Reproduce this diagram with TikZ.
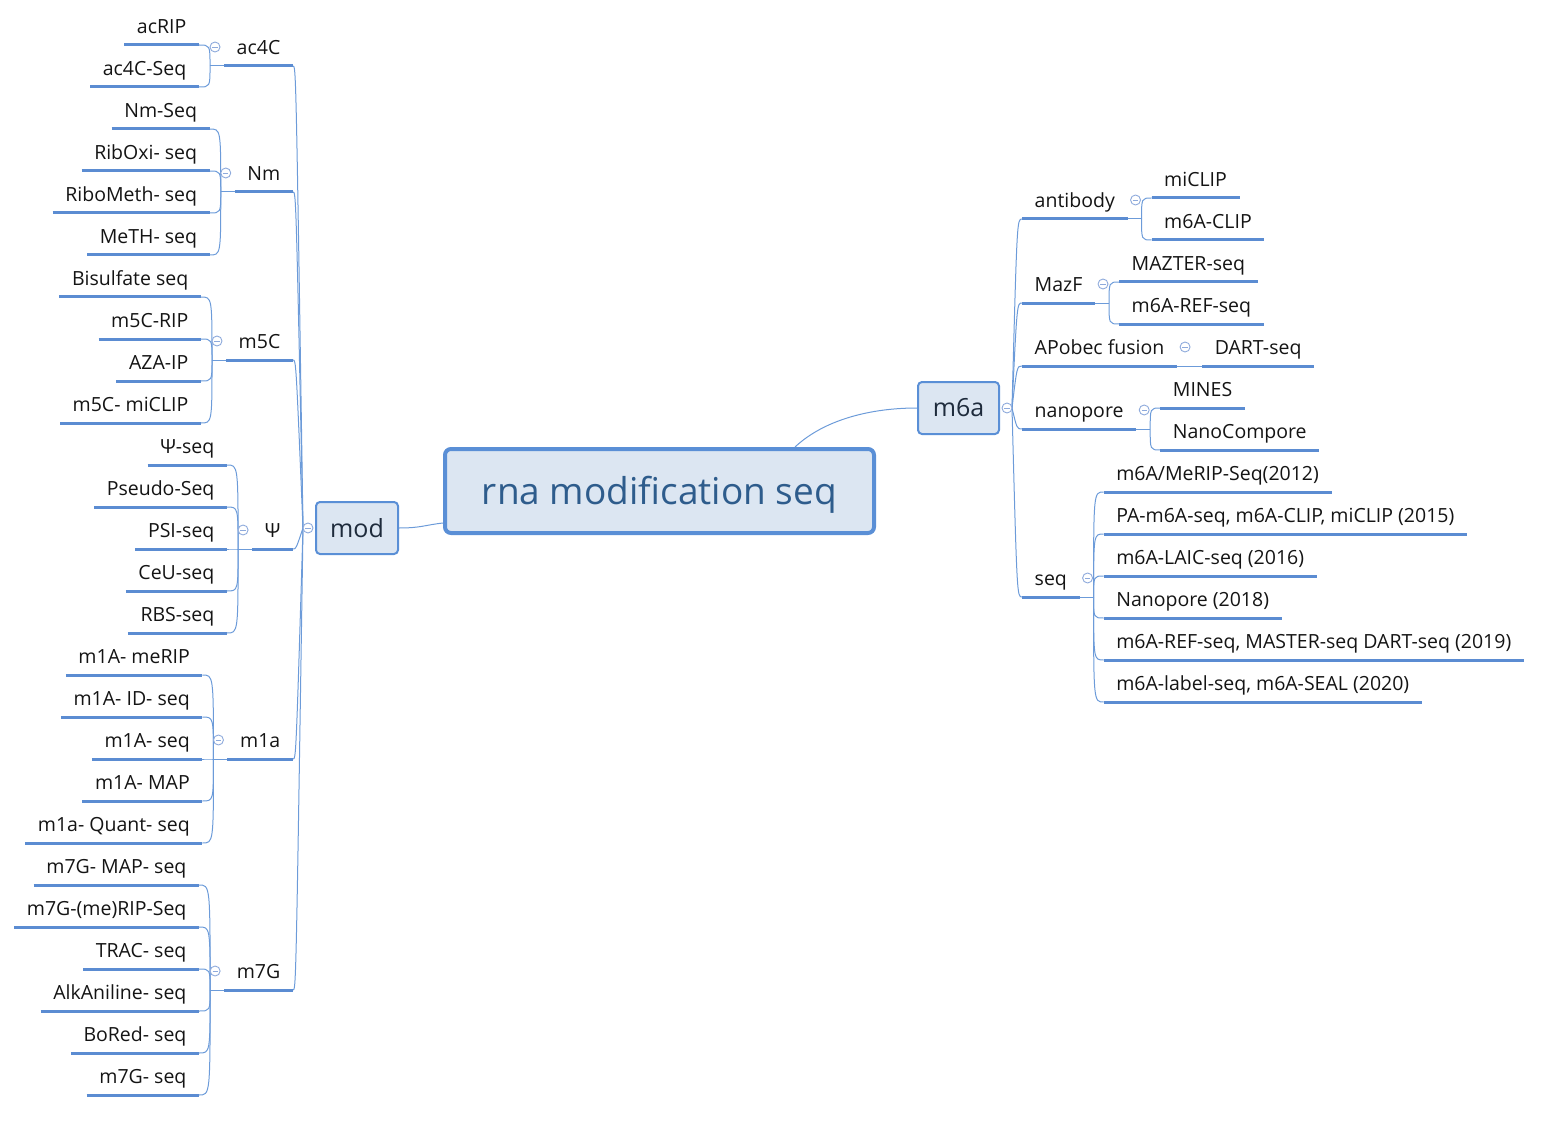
\documentclass[tikz,border=0pt]{standalone}
\usepackage{fontspec}
\setmainfont{Open Sans}
\usetikzlibrary{calc}
\definecolor{lineblue}{HTML}{5B8CD2}
\definecolor{thinblue}{HTML}{6C9BD9}
\definecolor{boxfill}{HTML}{DCE6F2}
\definecolor{boxdraw}{HTML}{5A8FD6}
\definecolor{centertext}{HTML}{2E5C8C}
\definecolor{boxtext}{HTML}{1E2B3C}
\definecolor{markblue}{HTML}{8EAADC}
\definecolor{leaftext}{HTML}{141414}
\tikzset{
  topic/.style={font=\fontsize{19.5}{22}\selectfont, text=leaftext, inner xsep=12.5pt, inner ysep=7pt, text height=14pt, text depth=4pt},
  topicL/.style={topic, anchor=south east},
  topicR/.style={topic, anchor=south west},
  ulline/.style={draw=lineblue, line width=3pt},
  conn/.style={draw=thinblue, line width=1pt},
  marker/.style={circle, draw=markblue, fill=white, line width=0.9pt, minimum size=10pt, inner sep=0pt,
    path picture={\draw[markblue, line width=0.9pt] ([xshift=-2.6pt]path picture bounding box.center) -- ([xshift=2.6pt]path picture bounding box.center);}},
  mainbox/.style={rectangle, rounded corners=4pt, draw=boxdraw, fill=boxfill, line width=2pt,
    font=\fontsize{25}{30}\selectfont, text=boxtext, minimum height=52pt, inner sep=0pt},
  centerbox/.style={rectangle, rounded corners=6pt, draw=boxdraw, fill=boxfill, line width=4pt,
    font=\fontsize{37}{44}\selectfont, text=centertext, minimum width=429pt, minimum height=84pt, inner sep=0pt}
}
\begin{document}
\begin{tikzpicture}[x=1pt,y=-1pt]
\useasboundingbox (0,0) rectangle (1559,1126);

% central and main topics
\node[centerbox] (center) at (659.5,491) {\raisebox{-4pt}[\height][\depth]{rna modification seq}};
\node[mainbox, minimum width=82pt] (mod) at (357,528) {mod};
\node[mainbox, minimum width=81pt] (m6a) at (958.5,408) {m6a};

\draw[conn] (mod.east) .. controls +(22,0) and +(-18,2) .. ([yshift=12pt]center.south west);
\draw[conn] ([xshift=-81pt]center.north east) .. controls +(30,-28) and +(-45,0) .. (m6a.west);

% ---------- left side ----------
\node[topicL] (ac4C) at (293,66) {ac4C};
\node[topicL] (Nm) at (293,192) {Nm};
\node[topicL] (m5C) at (293,360) {m5C};
\node[topicL] (psi) at (293,549) {Ψ};
\node[topicL] (m1a) at (293,759) {m1a};
\node[topicL] (m7G) at (293,990) {m7G};

\foreach \n in {ac4C,Nm,m5C,psi,m1a,m7G}{
  \coordinate (\n F) at ([xshift=-14pt]\n.south west);
}

\node[topicL, xshift=-11pt] (acRIP) at (ac4CF |- 0,45) {acRIP};
\node[topicL, xshift=-11pt] (acSeq) at (ac4CF |- 0,87) {ac4C-Seq};

\node[topicL, xshift=-11pt] (nmSeq) at (NmF |- 0,129) {Nm-Seq};
\node[topicL, xshift=-11pt] (ribOxi) at (NmF |- 0,171) {RibOxi- seq};
\node[topicL, xshift=-11pt] (riboMeth) at (NmF |- 0,213) {RiboMeth- seq};
\node[topicL, xshift=-11pt] (meth) at (NmF |- 0,255) {MeTH- seq};

\node[topicL, xshift=-11pt] (bis) at (m5CF |- 0,297) {Bisulfate seq};
\node[topicL, xshift=-11pt] (m5cRIP) at (m5CF |- 0,339) {m5C-RIP};
\node[topicL, xshift=-11pt] (aza) at (m5CF |- 0,381) {AZA-IP};
\node[topicL, xshift=-11pt] (m5cCLIP) at (m5CF |- 0,423) {m5C- miCLIP};

\node[topicL, xshift=-11pt] (psiSeq) at (psiF |- 0,465) {Ψ-seq};
\node[topicL, xshift=-11pt] (pseudo) at (psiF |- 0,507) {Pseudo-Seq};
\node[topicL, xshift=-11pt] (psiS) at (psiF |- 0,549) {PSI-seq};
\node[topicL, xshift=-11pt] (ceu) at (psiF |- 0,591) {CeU-seq};
\node[topicL, xshift=-11pt] (rbs) at (psiF |- 0,633) {RBS-seq};

\node[topicL, xshift=-11pt] (merip) at (m1aF |- 0,675) {m1A- meRIP};
\node[topicL, xshift=-11pt] (idseq) at (m1aF |- 0,717) {m1A- ID- seq};
\node[topicL, xshift=-11pt] (m1aseq) at (m1aF |- 0,759) {m1A- seq};
\node[topicL, xshift=-11pt] (map) at (m1aF |- 0,801) {m1A- MAP};
\node[topicL, xshift=-11pt] (quant) at (m1aF |- 0,843) {m1a- Quant- seq};

\node[topicL, xshift=-11pt] (m7map) at (m7GF |- 0,885) {m7G- MAP- seq};
\node[topicL, xshift=-11pt] (m7rip) at (m7GF |- 0,927) {m7G-(me)RIP-Seq};
\node[topicL, xshift=-11pt] (trac) at (m7GF |- 0,969) {TRAC- seq};
\node[topicL, xshift=-11pt] (alk) at (m7GF |- 0,1011) {AlkAniline- seq};
\node[topicL, xshift=-11pt] (bored) at (m7GF |- 0,1053) {BoRed- seq};
\node[topicL, xshift=-11pt] (m7seq) at (m7GF |- 0,1095) {m7G- seq};

% trunk from mod
\coordinate (modP) at ([xshift=-12pt]mod.west);
\coordinate (modT) at ([xshift=-19pt]mod.west);
\foreach \n in {ac4C,Nm,m5C,psi,m1a,m7G}{
  \draw[conn] (modP) .. controls (modT |- \n.south east) .. (\n.south east);
  \draw[conn] (\n F) -- (\n.south west);
}
% fans
\foreach \p/\cs in {ac4C/{acRIP,acSeq}, Nm/{nmSeq,ribOxi,riboMeth,meth},
  m5C/{bis,m5cRIP,aza,m5cCLIP}, psi/{psiSeq,pseudo,psiS,ceu,rbs},
  m1a/{merip,idseq,m1aseq,map,quant}, m7G/{m7map,m7rip,trac,alk,bored,m7seq}}{
  \foreach \c in \cs {
    \draw[conn] (\p F) .. controls (\p F |- \c.south east) .. (\c.south east);
  }
}

% ---------- right side ----------
\node[topicR] (antibody) at (1022,219) {antibody};
\node[topicR] (mazf) at (1022,303) {MazF};
\node[topicR] (apobec) at (1022,366) {APobec fusion};
\node[topicR] (nanopore) at (1022,429) {nanopore};
\node[topicR] (seq) at (1022,597) {seq};

\foreach \n in {antibody,mazf,nanopore,seq}{
  \coordinate (\n F) at ([xshift=14pt]\n.south east);
}

\node[topicR, xshift=10pt] (miclip) at (antibodyF |- 0,198) {miCLIP};
\node[topicR, xshift=10pt] (m6aclip) at (antibodyF |- 0,240) {m6A-CLIP};
\node[topicR, xshift=10pt] (mazter) at (mazfF |- 0,282) {MAZTER-seq};
\node[topicR, xshift=10pt] (refseq) at (mazfF |- 0,324) {m6A-REF-seq};
\node[topicR, xshift=25pt] (dart) at (apobec.south east) {DART-seq};
\node[topicR, xshift=10pt] (mines) at (nanoporeF |- 0,408) {MINES};
\node[topicR, xshift=10pt] (nanocomp) at (nanoporeF |- 0,450) {NanoCompore};
\node[topicR, xshift=10pt] (s1) at (seqF |- 0,492) {m6A/MeRIP-Seq(2012)};
\node[topicR, xshift=10pt] (s2) at (seqF |- 0,534) {PA-m6A-seq, m6A-CLIP, miCLIP (2015)};
\node[topicR, xshift=10pt] (s3) at (seqF |- 0,576) {m6A-LAIC-seq (2016)};
\node[topicR, xshift=10pt] (s4) at (seqF |- 0,618) {Nanopore (2018)};
\node[topicR, xshift=10pt] (s5) at (seqF |- 0,660) {m6A-REF-seq, MASTER-seq DART-seq (2019)};
\node[topicR, xshift=10pt] (s6) at (seqF |- 0,702) {m6A-label-seq, m6A-SEAL (2020)};

\coordinate (m6aP) at ([xshift=12pt]m6a.east);
\coordinate (m6aT) at ([xshift=17pt]m6a.east);
\foreach \n in {antibody,mazf,apobec,nanopore,seq}{
  \draw[conn] (m6aP) .. controls (m6aT |- \n.south west) .. (\n.south west);
}
\foreach \n in {antibody,mazf,nanopore,seq}{
  \draw[conn] (\n.south east) -- (\n F);
}
\draw[conn] (apobec.south east) -- (dart.south west);
\foreach \p/\cs in {antibody/{miclip,m6aclip}, mazf/{mazter,refseq}, nanopore/{mines,nanocomp}, seq/{s1,s2,s3,s4,s5,s6}}{
  \foreach \c in \cs {
    \draw[conn] (\p F) .. controls (\p F |- \c.south west) .. (\c.south west);
  }
}

% underlines
\foreach \n in {ac4C,Nm,m5C,psi,m1a,m7G,acRIP,acSeq,nmSeq,ribOxi,riboMeth,meth,bis,m5cRIP,aza,m5cCLIP,
  psiSeq,pseudo,psiS,ceu,rbs,merip,idseq,m1aseq,map,quant,m7map,m7rip,trac,alk,bored,m7seq,
  antibody,mazf,apobec,nanopore,seq,miclip,m6aclip,mazter,refseq,dart,mines,nanocomp,s1,s2,s3,s4,s5,s6}{
  \draw[ulline] (\n.south west) -- (\n.south east);
}

% collapse markers
\node[marker] (mkmod) at ([xshift=-7pt]mod.west) {};
\node[marker] (mkm6a) at ([xshift=7pt]m6a.east) {};
\foreach \n in {ac4C,Nm,m5C,psi,m1a,m7G}{
  \node[marker] (mk\n) at ([xshift=5pt,yshift=19pt]\n F) {};
}
\foreach \n in {antibody,mazf,nanopore,seq}{
  \node[marker] (mk\n) at ([xshift=-6pt,yshift=19pt]\n F) {};
}
\node[marker] (mkapobec) at ([xshift=8pt,yshift=19pt]apobec.south east) {};
\end{tikzpicture}
\end{document}
